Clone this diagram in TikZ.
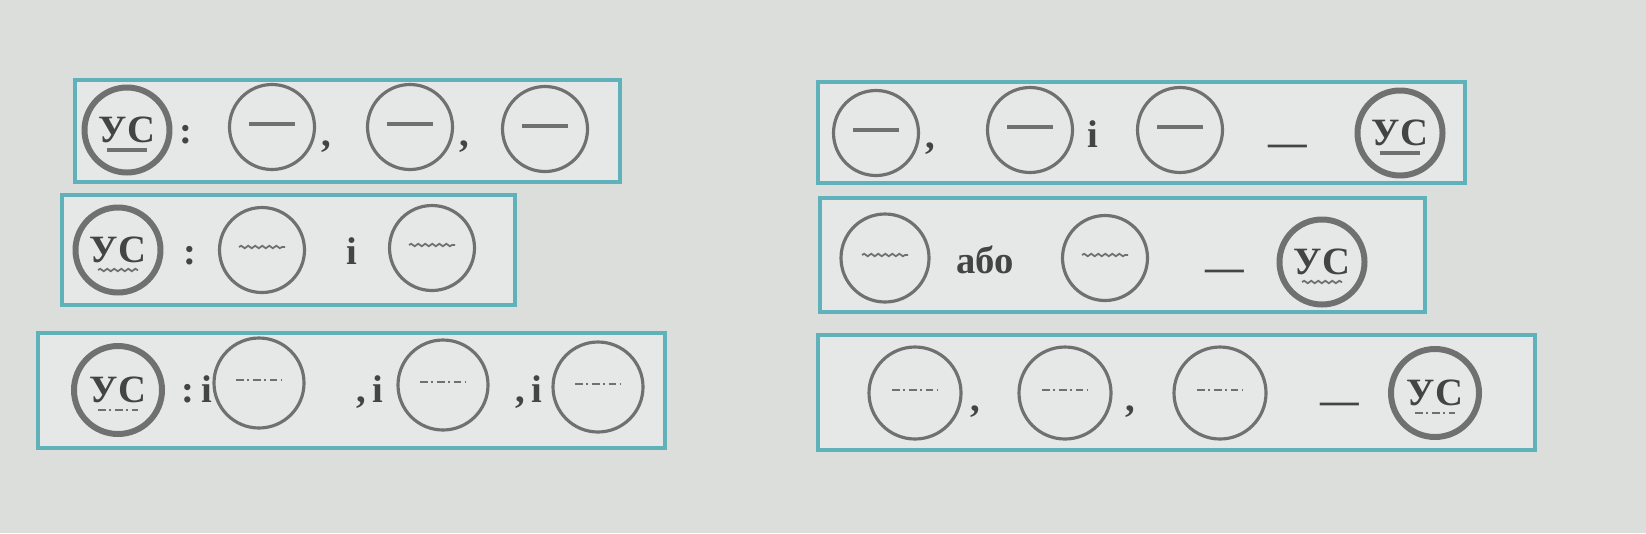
\documentclass[tikz,border=0pt]{standalone}
\usepackage{fontspec}
\setmainfont{Liberation Serif}
\usetikzlibrary{decorations.pathmorphing}

\definecolor{pagegray}{RGB}{220,222,219}
\definecolor{boxfill}{RGB}{229,232,231}
\definecolor{frameteal}{RGB}{96,178,186}
\definecolor{ringgray}{RGB}{112,112,112}
\definecolor{inkgray}{RGB}{68,68,68}

\tikzset{
  frame/.style={draw=frameteal, line width=1.3pt, fill=boxfill},
  ring/.style={circle, draw=ringgray, line width=0.9pt, minimum size=0.85cm, inner sep=0pt},
  ucring/.style={ring, line width=1.7pt, font=\bfseries\fontsize{11}{13}\selectfont, text=inkgray},
  sep/.style={anchor=base, text=inkgray, font=\bfseries\fontsize{11}{13}\selectfont, inner sep=0pt},
  solidmk/.style={draw=ringgray, line width=1pt},
  wavemk/.style={draw=ringgray, line width=0.5pt, decorate, decoration={snake, amplitude=0.35pt, segment length=2pt}},
  dashdotmk/.style={draw=ringgray, line width=0.7pt, dash pattern=on 2.2pt off 1pt on 0.6pt off 1pt}
}

% mark inside a circle and line under the word in the UC circle
\newcommand{\markin}[2]{\draw[#2] ([xshift=-0.23cm,yshift=0.03cm]#1.center) -- ([xshift=0.23cm,yshift=0.03cm]#1.center);}
\newcommand{\ucline}[2]{\draw[#2] ([xshift=-0.2cm,yshift=-0.2cm]#1.center) -- ([xshift=0.2cm,yshift=-0.2cm]#1.center);}

\begin{document}
\begin{tikzpicture}
  % page
  \fill[pagegray] (0,0) rectangle (16.46,5.33);

  % Frames
  \draw[frame] (0.75,3.51) rectangle (6.20,4.53);
  \draw[frame] (0.62,2.28) rectangle (5.15,3.38);
  \draw[frame] (0.38,0.85) rectangle (6.65,2.00);
  \draw[frame] (8.18,3.50) rectangle (14.65,4.51);
  \draw[frame] (8.20,2.21) rectangle (14.25,3.35);
  \draw[frame] (8.18,0.83) rectangle (15.35,1.98);

  % Left, row 1
  \node[ucring] (ucA) at (1.27,4.03) {УС};
  \node[ring] (a1) at (2.72,4.06) {};
  \node[ring] (a2) at (4.10,4.06) {};
  \node[ring] (a3) at (5.45,4.04) {};
  \node[sep] (sa0) at (1.86,3.90) {:};
  \node[sep] (sa1) at (3.26,3.87) {,};
  \node[sep] (sa2) at (4.64,3.87) {,};
  \ucline{ucA}{solidmk}
  \markin{a1}{solidmk} \markin{a2}{solidmk} \markin{a3}{solidmk}

  % Left, row 2
  \node[ucring] (ucB) at (1.18,2.83) {УС};
  \node[ring] (b1) at (2.62,2.83) {};
  \node[ring] (b2) at (4.32,2.85) {};
  \node[sep] (sb0) at (1.90,2.69) {:};
  \node[sep] (sb1) at (3.52,2.69) {і};
  \ucline{ucB}{wavemk}
  \markin{b1}{wavemk} \markin{b2}{wavemk}

  % Left, row 3
  \node[ucring, minimum size=0.88cm] (ucC) at (1.18,1.43) {УС};
  \node[ring, minimum size=0.9cm] (c1) at (2.59,1.50) {};
  \node[ring, minimum size=0.9cm] (c2) at (4.43,1.48) {};
  \node[ring, minimum size=0.9cm] (c3) at (5.98,1.46) {};
  \node[sep] (sc0) at (1.97,1.31) {:\,і};
  \node[sep] (sc1) at (3.70,1.31) {,\,і};
  \node[sep] (sc2) at (5.29,1.31) {,\,і};
  \ucline{ucC}{dashdotmk}
  \markin{c1}{dashdotmk} \markin{c2}{dashdotmk} \markin{c3}{dashdotmk}

  % Right, row 1
  \node[ring] (d1) at (8.76,4.00) {};
  \node[ring] (d2) at (10.30,4.03) {};
  \node[ring] (d3) at (11.80,4.03) {};
  \node[ucring] (ucD) at (14.00,4.00) {УС};
  \node[sep] (sd1) at (9.30,3.85) {,};
  \node[sep] (sd2) at (10.93,3.86) {і};
  \node[sep] (sd3) at (12.88,3.78) {—};
  \ucline{ucD}{solidmk}
  \markin{d1}{solidmk} \markin{d2}{solidmk} \markin{d3}{solidmk}

  % Right, row 2
  \node[ring, minimum size=0.88cm] (e1) at (8.85,2.75) {};
  \node[ring] (e2) at (11.05,2.75) {};
  \node[ucring] (ucE) at (13.22,2.71) {УС};
  \node[sep] (se1) at (9.85,2.60) {або};
  \node[sep] (se2) at (12.25,2.53) {—};
  \ucline{ucE}{wavemk}
  \markin{e1}{wavemk} \markin{e2}{wavemk}

  % Right, row 3
  \node[ring, minimum size=0.92cm] (f1) at (9.15,1.40) {};
  \node[ring, minimum size=0.92cm] (f2) at (10.65,1.40) {};
  \node[ring, minimum size=0.92cm] (f3) at (12.20,1.40) {};
  \node[ucring, minimum size=0.88cm] (ucF) at (14.35,1.40) {УС};
  \node[sep] (sf1) at (9.75,1.22) {,};
  \node[sep] (sf2) at (11.30,1.22) {,};
  \node[sep] (sf3) at (13.40,1.20) {—};
  \ucline{ucF}{dashdotmk}
  \markin{f1}{dashdotmk} \markin{f2}{dashdotmk} \markin{f3}{dashdotmk}
\end{tikzpicture}
\end{document}
